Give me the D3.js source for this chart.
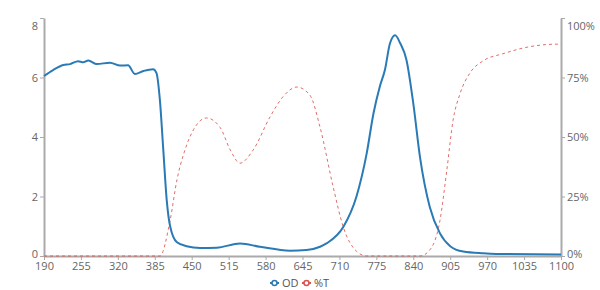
<!DOCTYPE html>
<html>
<head>
<meta charset="utf-8">
<script src="https://cdn.jsdelivr.net/npm/d3@7"></script>
<style>
  body { margin: 0; background: #fff; }
  text { font-family: "Open Sans", sans-serif; }
</style>
</head>
<body>
<div class="chart"></div>
<script>
// wavelength (nm) and optical density
var odWavelength = [190, 206, 224, 236, 250, 259, 268, 283, 306, 324, 338, 350, 365, 382, 388, 394, 400, 406, 412, 424, 441, 465, 494, 535, 570, 623, 652, 676, 688, 717, 740, 758, 770, 781, 790, 799, 808, 817, 828, 840, 852, 869, 887, 905, 928, 963, 986, 1100];
var odValues = [6.05, 6.25, 6.42, 6.45, 6.55, 6.51, 6.57, 6.45, 6.5, 6.4, 6.41, 6.12, 6.22, 6.28, 6.15, 5.24, 3.56, 1.88, 1.0, 0.46, 0.33, 0.27, 0.28, 0.42, 0.31, 0.18, 0.2, 0.31, 0.43, 0.98, 2.0, 3.45, 4.8, 5.69, 6.25, 7.15, 7.42, 7.15, 6.59, 5.13, 3.3, 1.65, 0.76, 0.33, 0.15, 0.09, 0.07, 0.05];

// wavelength (nm) and transmission (%)
var tWavelength = [190, 394, 412, 424, 436, 453, 476, 500, 518, 535, 558, 588, 611, 635, 658, 676, 699, 717, 740, 758, 852, 869, 887, 899, 910, 922, 940, 963, 998, 1046, 1093, 1100];
var tValues = [0, 0, 15, 32, 43, 53, 58, 54, 44.5, 39, 44.5, 58.5, 67, 71, 67.6, 54, 29, 12, 2, 0, 0, 2.5, 15, 36, 57, 68, 77, 82, 85, 88, 89, 89];

var xTicks = [190, 255, 320, 385, 450, 515, 580, 645, 710, 775, 840, 905, 970, 1035, 1100];
var odTicks = [0, 2, 4, 6, 8];
var tTicks = [0, 25, 50, 75, 100];

var seriesNames = ["OD", "%T"];
var seriesColors = ["#2a7ab6", "#d9534f"];

var svgWidth = 600;
var svgHeight = 290;
var margin = { top: 18, right: 39, bottom: 34, left: 44 };
var width = svgWidth - margin.left - margin.right;
var height = svgHeight - margin.top - margin.bottom;

var svg = d3.select(".chart")
  .append("svg")
  .attr("width", svgWidth)
  .attr("height", svgHeight);

var chartGroup = svg.append("g")
  .attr("transform", `translate(${margin.left}, ${margin.top})`);

var x = d3.scaleLinear().domain([190, 1100]).range([0, width]);
var yOD = d3.scaleLinear().domain([0, 8]).range([height, 0]);
var yT = d3.scaleLinear().domain([0, 100]).range([height, 0]);

function styleAxis(g) {
  g.select(".domain").attr("stroke", "#aaa").attr("stroke-width", 2);
  g.selectAll(".tick line").attr("stroke", "#aaa");
  g.selectAll(".tick text").attr("fill", "#666").style("font-size", "11px");
}

// x axis
var xAxis = chartGroup.append("g")
  .attr("transform", `translate(0, ${height})`)
  .call(d3.axisBottom(x).tickValues(xTicks).tickFormat(d3.format("d")).tickSize(4).tickSizeOuter(0).tickPadding(2));
styleAxis(xAxis);

// left axis
var leftAxis = chartGroup.append("g")
  .call(d3.axisLeft(yOD).tickValues(odTicks).tickSize(4).tickSizeOuter(0).tickPadding(2));
styleAxis(leftAxis);

// right axis
var rightAxis = chartGroup.append("g")
  .attr("transform", `translate(${width}, 0)`)
  .call(d3.axisRight(yT).tickValues(tTicks).tickFormat(d => d + "%").tickSize(4).tickSizeOuter(0).tickPadding(2));
styleAxis(rightAxis);

// top labels sit a bit lower than their tick, bottom ones a bit higher
leftAxis.selectAll(".tick").filter(d => d === 8).select("text").attr("dy", "1.0em");
rightAxis.selectAll(".tick").filter(d => d === 100).select("text").attr("dy", "1.0em");
leftAxis.selectAll(".tick").filter(d => d === 0).select("text").attr("dy", "0.1em");
rightAxis.selectAll(".tick").filter(d => d === 0).select("text").attr("dy", "0.1em");

// %T line (dashed)
var tLine = d3.line()
  .x((d, i) => x(tWavelength[i]))
  .y(d => yT(d))
  .curve(d3.curveMonotoneX);

chartGroup.append("path")
  .datum(tValues)
  .attr("fill", "none")
  .attr("stroke", seriesColors[1])
  .attr("stroke-width", 1)
  .attr("stroke-dasharray", "3,3")
  .attr("opacity", 0.85)
  .attr("d", tLine);

// OD line
var odLine = d3.line()
  .x((d, i) => x(odWavelength[i]))
  .y(d => yOD(d))
  .curve(d3.curveMonotoneX);

chartGroup.append("path")
  .datum(odValues)
  .attr("fill", "none")
  .attr("stroke", seriesColors[0])
  .attr("stroke-width", 2)
  .attr("d", odLine);

// legend
var legend = svg.append("g")
  .attr("transform", "translate(270, 283)");

var legendX = [0, 32];
seriesNames.forEach(function(name, i) {
  var item = legend.append("g").attr("transform", `translate(${legendX[i]}, 0)`);
  item.append("line")
    .attr("x1", 0).attr("x2", 9)
    .attr("y1", 0).attr("y2", 0)
    .attr("stroke", seriesColors[i])
    .attr("stroke-width", 2);
  item.append("circle")
    .attr("cx", 4.5).attr("cy", 0).attr("r", 2.5)
    .attr("fill", "#fff")
    .attr("stroke", seriesColors[i])
    .attr("stroke-width", 1.5);
  item.append("text")
    .attr("x", 12).attr("y", 4)
    .attr("fill", "#555")
    .style("font-size", "11px")
    .text(name);
});
</script>
</body>
</html>
